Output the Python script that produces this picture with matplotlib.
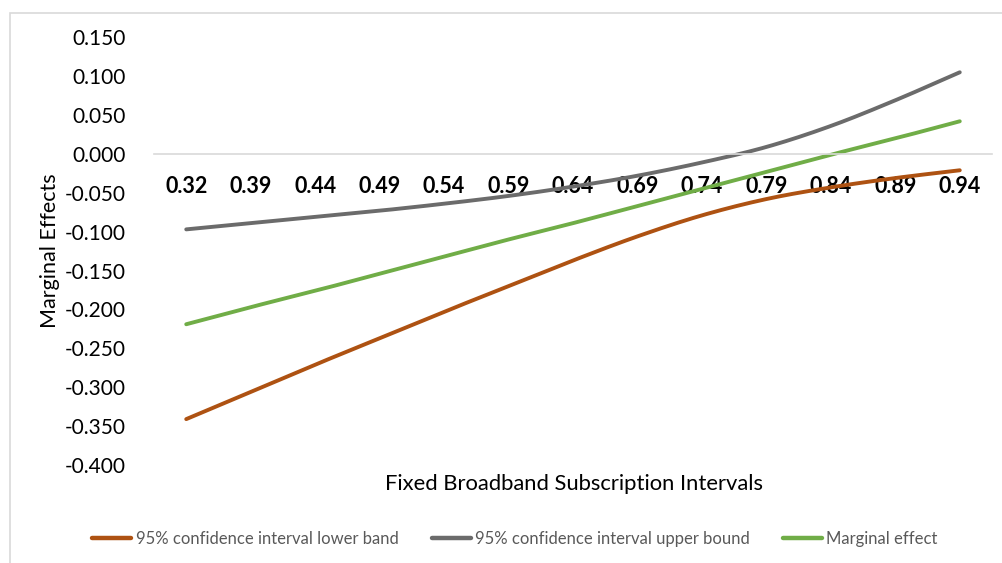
import numpy as np
import matplotlib
matplotlib.use("Agg")
import matplotlib.pyplot as plt
from matplotlib.patches import Rectangle
from matplotlib.lines import Line2D

plt.rcParams["font.family"] = ["Lato", "DejaVu Sans"]
plt.rcParams["axes.unicode_minus"] = False

# Fixed broadband subscription intervals (category axis)
intervals = ["0.32", "0.39", "0.44", "0.49", "0.54", "0.59", "0.64",
             "0.69", "0.74", "0.79", "0.84", "0.89", "0.94"]

# Marginal effects and 95% confidence bounds
ci_lower = [-0.341, -0.306, -0.271, -0.237, -0.203, -0.170, -0.137,
            -0.106, -0.079, -0.058, -0.043, -0.031, -0.021]
ci_upper = [-0.097, -0.089, -0.081, -0.073, -0.064, -0.054, -0.042,
            -0.028, -0.011, 0.009, 0.036, 0.069, 0.105]
marginal = [-0.219, -0.197, -0.176, -0.154, -0.132, -0.110, -0.089,
            -0.067, -0.045, -0.023, -0.001, 0.020, 0.042]

y_ticks = [0.15, 0.10, 0.05, 0.0, -0.05, -0.10, -0.15, -0.20, -0.25,
           -0.30, -0.35, -0.40]

series = [
    ("95% confidence interval lower band", ci_lower, "#AE5212"),
    ("95% confidence interval upper bound", ci_upper, "#6B6B6B"),
    ("Marginal effect", marginal, "#70AD47"),
]


def smooth(xs, ys, n=30):
    """Catmull-Rom curve through the points, like a spreadsheet smoothed line."""
    xs = np.asarray(xs, float)
    ys = np.asarray(ys, float)
    px = np.concatenate([[2 * xs[0] - xs[1]], xs, [2 * xs[-1] - xs[-2]]])
    py = np.concatenate([[2 * ys[0] - ys[1]], ys, [2 * ys[-1] - ys[-2]]])
    out_x, out_y = [], []
    t = np.linspace(0, 1, n, endpoint=False)
    for i in range(1, len(px) - 2):
        for p, out in ((px, out_x), (py, out_y)):
            p0, p1, p2, p3 = p[i - 1], p[i], p[i + 1], p[i + 2]
            seg = 0.5 * ((2 * p1) + (-p0 + p2) * t
                         + (2 * p0 - 5 * p1 + 4 * p2 - p3) * t ** 2
                         + (-p0 + 3 * p1 - 3 * p2 + p3) * t ** 3)
            out.extend(seg)
    out_x.append(xs[-1])
    out_y.append(ys[-1])
    return np.array(out_x), np.array(out_y)


W, H = 1002, 563
fig = plt.figure(figsize=(W / 100, H / 100), dpi=100)

# chart-area border
fig.patches.append(Rectangle((10 / W, -0.1), 1.2, 1 - 13 / H + 0.1,
                             transform=fig.transFigure, fill=False,
                             edgecolor="#D9D9D9", linewidth=1.2))

ax = fig.add_axes([154 / W, 1 - 465 / H, (992 - 154) / W, (465 - 37.3) / H])
ax.set_facecolor("none")

# horizontal axis sits on the zero line
for s in ("top", "right", "left"):
    ax.spines[s].set_visible(False)
ax.spines["bottom"].set_position(("data", 0))
ax.spines["bottom"].set_color("#D9D9D9")
ax.spines["bottom"].set_linewidth(1.2)

x = np.arange(len(intervals))
for name, vals, col in series:
    sx, sy = smooth(x, vals)
    ax.plot(sx, sy, color=col, linewidth=2.8, solid_capstyle="round",
            label=name)

ax.set_xlim(-0.5, len(intervals) - 0.5)
ax.set_ylim(-0.4, 0.15)
ax.set_yticks(y_ticks)
ax.set_yticklabels([f"{v:.3f}" for v in y_ticks], fontsize=15)
ax.tick_params(axis="y", length=0, pad=20)

ax.set_xticks(x)
ax.set_xticklabels(intervals, fontsize=15.5, fontweight="bold")
ax.tick_params(axis="x", length=0, pad=16)

fig.text(574 / W, 1 - 484 / H, "Fixed Broadband Subscription Intervals",
         ha="center", va="center", fontsize=15.8)
fig.text(50 / W, 1 - 251 / H, "Marginal Effects", rotation=90,
         ha="center", va="center", fontsize=15.5)

handles = [Line2D([], [], color=c, linewidth=3.2, solid_capstyle="round")
           for _, _, c in series]
leg = fig.legend(handles, [n for n, _, _ in series], loc="center",
                 bbox_to_anchor=(515 / W, 1 - 539 / H), ncol=3, frameon=False,
                 fontsize=12.0, handlelength=2.35, handletextpad=0.25,
                 columnspacing=2.0)
for t in leg.get_texts():
    t.set_color("#595959")

fig.savefig("out.png", dpi=100)
